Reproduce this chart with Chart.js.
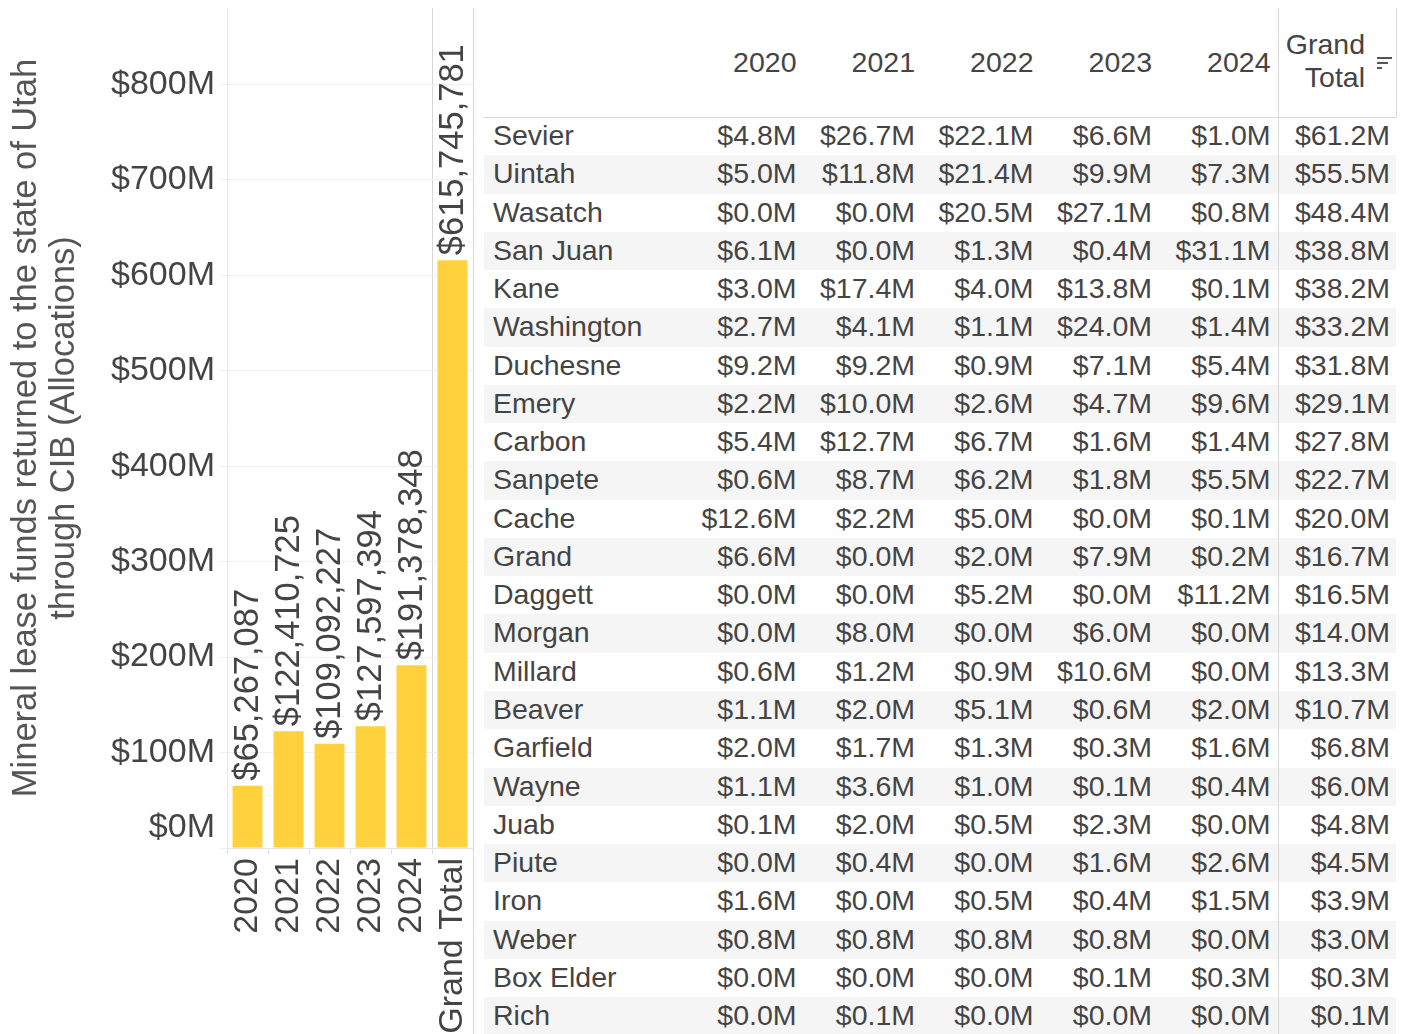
<!DOCTYPE html>
<html>
<head>
<meta charset="utf-8">
<script src="https://cdn.jsdelivr.net/npm/chart.js@4.4.1/dist/chart.umd.min.js"></script>
<style>
  html, body { margin: 0; padding: 0; background: #fff; }
  body {
    width: 1408px; height: 1034px; position: relative; overflow: hidden;
    font-family: "Liberation Sans", Arial, sans-serif; color: #444;
  }
  #barWrap { position: absolute; left: 0; top: 0; width: 480px; height: 1034px; }
  .line { position: absolute; background: #d9d9d9; }
  #head {
    position: absolute; left: 484px; top: 8px; width: 912px; height: 109px;
    display: flex; align-items: center; font-size: 28.5px; white-space: nowrap;
  }
  #rows { position: absolute; left: 484px; top: 117px; width: 912px; }
  .row { display: flex; height: 38.27px; line-height: 36.5px; font-size: 28.5px; white-space: nowrap; }
  .row.alt { background: #f5f5f5; }
  .name { width: 201.5px; padding-left: 9px; box-sizing: border-box; }
  .num { width: 118.5px; text-align: right; padding-right: 7.5px; box-sizing: border-box; }
  .num.gt { width: 118px; padding-right: 6px; }
  #head .gt { position: relative; padding-right: 31px; line-height: 33px; margin-top: -4px; }
  .sort { position: absolute; left: 99px; height: 2px; background: #555; }
</style>
</head>
<body>
<div id="barWrap"><canvas id="bars" width="480" height="1034"></canvas></div>
<div class="line" style="left:473px; top:8px; width:1px; height:1026px;"></div>
<div id="head"></div>
<div id="rows"></div>
<div class="line" style="left:484px; top:117px; width:912px; height:1px;"></div>
<div class="line" style="left:1278px; top:8px; width:1px; height:1026px;"></div>
<div class="line" style="left:1396px; top:8px; width:1px; height:109px;"></div>
<script>
// bar chart data
const barCategories = ['2020', '2021', '2022', '2023', '2024', 'Grand Total'];
const barValues = [65267087, 122410725, 109092227, 127597394, 191378348, 615745781];
const yTicks = [0, 100, 200, 300, 400, 500, 600, 700, 800]; // in $M

// table data ($M)
const tableYears = ['2020', '2021', '2022', '2023', '2024'];
const counties = ['Sevier', 'Uintah', 'Wasatch', 'San Juan', 'Kane', 'Washington', 'Duchesne', 'Emery',
  'Carbon', 'Sanpete', 'Cache', 'Grand', 'Daggett', 'Morgan', 'Millard', 'Beaver', 'Garfield', 'Wayne',
  'Juab', 'Piute', 'Iron', 'Weber', 'Box Elder', 'Rich'];
const v2020 = [4.8, 5.0, 0.0, 6.1, 3.0, 2.7, 9.2, 2.2, 5.4, 0.6, 12.6, 6.6, 0.0, 0.0, 0.6, 1.1, 2.0, 1.1, 0.1, 0.0, 1.6, 0.8, 0.0, 0.0];
const v2021 = [26.7, 11.8, 0.0, 0.0, 17.4, 4.1, 9.2, 10.0, 12.7, 8.7, 2.2, 0.0, 0.0, 8.0, 1.2, 2.0, 1.7, 3.6, 2.0, 0.4, 0.0, 0.8, 0.0, 0.1];
const v2022 = [22.1, 21.4, 20.5, 1.3, 4.0, 1.1, 0.9, 2.6, 6.7, 6.2, 5.0, 2.0, 5.2, 0.0, 0.9, 5.1, 1.3, 1.0, 0.5, 0.0, 0.5, 0.8, 0.0, 0.0];
const v2023 = [6.6, 9.9, 27.1, 0.4, 13.8, 24.0, 7.1, 4.7, 1.6, 1.8, 0.0, 7.9, 0.0, 6.0, 10.6, 0.6, 0.3, 0.1, 2.3, 1.6, 0.4, 0.8, 0.1, 0.0];
const v2024 = [1.0, 7.3, 0.8, 31.1, 0.1, 1.4, 5.4, 9.6, 1.4, 5.5, 0.1, 0.2, 11.2, 0.0, 0.0, 2.0, 1.6, 0.4, 0.0, 2.6, 1.5, 0.0, 0.3, 0.0];
const countyTotals = [61.2, 55.5, 48.4, 38.8, 38.2, 33.2, 31.8, 29.1, 27.8, 22.7, 20.0, 16.7, 16.5, 14.0, 13.3, 10.7, 6.8, 6.0, 4.8, 4.5, 3.9, 3.0, 0.3, 0.1];

const FONT = '"Liberation Sans", Arial, sans-serif';
const TEXT = '#444';

// ---- table ----
const head = document.getElementById('head');
let headHtml = '<div class="name"></div>';
tableYears.forEach(y => { headHtml += `<div class="num">${y}</div>`; });
headHtml += '<div class="num gt">Grand<br>Total' +
  '<span class="sort" style="top:29px; width:15px;"></span>' +
  '<span class="sort" style="top:34px; width:11px;"></span>' +
  '<span class="sort" style="top:39px; width:5px;"></span></div>';
head.innerHTML = headHtml;

const yearCols = [v2020, v2021, v2022, v2023, v2024];
const rows = document.getElementById('rows');
counties.forEach((name, i) => {
  const row = document.createElement('div');
  row.className = 'row' + (i % 2 ? ' alt' : '');
  let html = `<div class="name">${name}</div>`;
  yearCols.forEach(col => { html += `<div class="num">$${col[i].toFixed(1)}M</div>`; });
  html += `<div class="num gt">$${countyTotals[i].toFixed(1)}M</div>`;
  row.innerHTML = html;
  rows.appendChild(row);
});

// ---- bar chart ----
const barLabels = {
  id: 'barLabels',
  afterDatasetsDraw(chart) {
    const ctx = chart.ctx;
    const meta = chart.getDatasetMeta(0);
    ctx.save();
    ctx.font = '34.5px ' + FONT;
    ctx.fillStyle = TEXT;
    ctx.textAlign = 'left';
    ctx.textBaseline = 'middle';
    meta.data.forEach((bar, i) => {
      ctx.save();
      ctx.translate(bar.x, bar.y - 5);
      ctx.rotate(-Math.PI / 2);
      ctx.fillText('$' + barValues[i].toLocaleString('en-US'), 0, 1);
      ctx.restore();
    });
    // lowest axis label sits a little above the baseline
    const y = chart.scales.y;
    ctx.font = '34px ' + FONT;
    ctx.textAlign = 'right';
    ctx.fillText('$0M', y.right - 12, y.getPixelForValue(0) - 20);
    ctx.restore();
  }
};

new Chart(document.getElementById('bars'), {
  type: 'bar',
  data: {
    labels: barCategories,
    datasets: [{
      data: barValues,
      backgroundColor: '#FFD13C',
      barPercentage: 0.73,
      categoryPercentage: 1
    }]
  },
  options: {
    responsive: false,
    animation: false,
    layout: { padding: { top: 8, right: 7, left: 0, bottom: 0 } },
    plugins: { legend: { display: false }, tooltip: { enabled: false } },
    scales: {
      x: {
        grid: {
          offset: true,
          color: c => (c.index === 5 || c.index === undefined) ? '#d6d6d6' : 'rgba(0,0,0,0)',
          tickColor: '#e0e0e0',
          tickLength: 6
        },
        border: { color: '#e4e4e4' },
        ticks: {
          autoSkip: false, minRotation: 90, maxRotation: 90, padding: 4,
          color: TEXT, font: { size: 34, family: FONT }
        },
        afterFit(scale) {
          scale.height = 186;
          scale.paddingLeft = 0;
          scale.paddingRight = 0;
        }
      },
      y: {
        min: 0,
        max: 880e6,
        afterBuildTicks(scale) {
          scale.ticks = yTicks.map(v => ({ value: v * 1e6 }));
        },
        ticks: {
          padding: 5, color: TEXT, font: { size: 34, family: FONT },
          callback: v => v === 0 ? '' : '$' + (v / 1e6) + 'M'
        },
        grid: { color: '#efefef', tickColor: '#efefef', tickLength: 7 },
        border: { color: '#e8e8e8' },
        title: {
          display: true,
          text: ['Mineral lease funds returned to the state of Utah', 'through CIB (Allocations)'],
          color: '#555',
          font: { size: 34.5, family: FONT, lineHeight: 1.1 },
          padding: { top: 8, bottom: 0 }
        },
        afterFit(scale) {
          scale.width = 227;
          scale.paddingTop = 0;
          scale.paddingBottom = 0;
        }
      }
    }
  },
  plugins: [barLabels]
});
</script>
</body>
</html>
